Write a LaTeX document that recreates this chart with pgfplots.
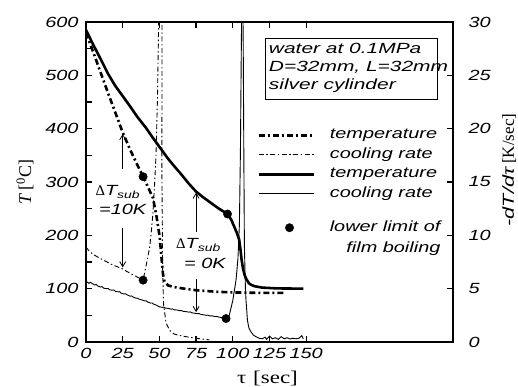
\documentclass[border=0pt]{standalone}
\usepackage{fontspec}
\setmainfont{Liberation Serif}
\newfontfamily\hv[FakeStretch=1.35]{Liberation Sans}
\newfontfamily\hvb[FakeStretch=1.42]{Liberation Sans}
\newfontfamily\tms[FakeStretch=1.28]{Liberation Serif}
\usepackage{pgfplots}
\pgfplotsset{compat=1.18}
\usetikzlibrary{arrows.meta}
\newcommand{\hvf}{\hv\itshape\fontsize{14.8}{17}\selectfont}
\newcommand{\serf}{\rmfamily\upshape\fontsize{18}{21}\selectfont}
\pgfplotsset{
 legline/.style={legend image code/.code={\draw[##1] (0bp,0bp) -- (55bp,0bp);}},
 legdot/.style={legend image code/.code={\fill (31bp,0bp) circle (4.2bp);}},
}
\begin{document}
\begin{tikzpicture}
\path[use as bounding box] (-86bp,-45bp) rectangle (432bp,342bp);
\begin{axis}[
 scale only axis, width=367bp, height=320bp,
 xmin=0, xmax=250, ymin=0, ymax=600,
 clip mode=individual,
 xtick={0,25,...,150}, ytick={0,100,...,600}, minor ytick={50,150,...,550},
 ytick pos=left, xtick pos=both,
 tick align=inside,
 major tick length=6bp, minor tick length=6bp,
 axis line style={line width=1.5bp},
 tick style={line width=1.2bp, black},
 ticklabel style={font=\hvf},
 /pgf/number format/assume math mode=true,
 xticklabel style={yshift=-3bp},
 yticklabel style={xshift=-4bp},
 ylabel={{\itshape T} [\textsuperscript{0}C]},
 ylabel style={font=\serf, at={(axis description cs:-0.166,0.5)}, anchor=center},
]
% dT_sub = 10K, temperature
\addplot[line width=2.6bp, dash pattern=on 6bp off 3bp on 2bp off 3bp] coordinates {
(0,580)(5,543)(10,505)(15,467)(20,430)(25,393)(30,361)(35,332)(38.9,310)
(42,292)(45.6,270)(47.9,238)(50.2,197)(51.3,162)(52.4,128)(53.5,113)(56,106)(60,103)(67,100)
(75,97)(90,94)(100,93)(120,92)(135,92)};
% dT_sub = 0K, temperature
\addplot[line width=2.6bp] coordinates {
(0,585)(5,557)(9.5,533)(15,503)(20,480)(25.3,460)(30,442)(35,422)(41,401)(45,385)(50,366)
(55.8,344)(60,330)(65,314)(70,297)(75,282)(80,271)(85,261)(90,251)(96.4,240)(99,229)(101,216)
(103,203)(104.4,191)(105.3,172)(106,154)(107,137)(108,126)(109,119)(111,110)(113,106.5)
(115,104.5)(120,102)(130,100.5)(148,100)};
\addplot[only marks, mark=*, mark size=4.2bp] coordinates {(38.9,310)(96.4,240)};
% x label
\node[font=\tms\fontsize{18}{21}\selectfont, anchor=west, inner sep=0pt] at (rel axis cs:0.411,-0.1125) {τ\hspace{7bp}[sec]};
% annotations
\draw[line width=0.8bp, -{Straight Barb[length=5bp,width=6bp]}] (axis cs:25,325) -- (axis cs:25,390);
\draw[line width=0.8bp, -{Straight Barb[length=5bp,width=6bp]}] (axis cs:25,213) -- (axis cs:25,140);
\draw[line width=0.8bp, -{Straight Barb[length=5bp,width=6bp]}] (axis cs:75,207) -- (axis cs:75,280);
\draw[line width=0.8bp, -{Straight Barb[length=5bp,width=6bp]}] (axis cs:75,118) -- (axis cs:75,56);
\node[font=\hvf, inner sep=0pt] at (axis cs:21.7,281) {{\rmfamily\upshape Δ}T\textsubscript{sub}};
\node[font=\hvf, inner sep=0pt] at (axis cs:25,248) {=10K};
\node[font=\hvf, inner sep=0pt] at (axis cs:76.6,182) {{\rmfamily\upshape Δ}T\textsubscript{sub}};
\node[font=\hvf, inner sep=0pt] at (axis cs:81,148) {= 0K};
% info box
\draw[line width=0.8bp] (axis cs:122,454) rectangle (axis cs:239.6,570);
\node[font=\hvb\itshape\fontsize{14.8}{17}\selectfont, anchor=north west, align=left, inner sep=0pt] at (axis cs:124.5,561)
 {water at 0.1MPa\\[1.2bp] D=32mm, L=32mm\\[1.2bp] silver cylinder};
\end{axis}
\begin{axis}[
 scale only axis, width=367bp, height=320bp,
 xmin=0, xmax=250, ymin=0, ymax=30,
 axis x line=none, axis y line*=right,
 ytick={0,5,...,30},
 tick align=inside, major tick length=6bp,
 axis line style={line width=1.5bp},
 tick style={line width=1.2bp, black},
 ticklabel style={font=\hvf},
 /pgf/number format/assume math mode=true,
 yticklabel style={anchor=west, xshift=12bp},
 ylabel={{\hv\itshape\fontsize{16}{18}\selectfont -dT/dτ} [K/sec]},
 ylabel style={font=\rmfamily\upshape\fontsize{17}{20}\selectfont, at={(axis description cs:1.153,0.5375)}, anchor=center},
 legend style={draw=none, fill=none, font=\hvf, at={(axis cs:116.5,20.06)}, anchor=north west,
   inner sep=0pt, row sep=5.5bp,
   nodes={inner sep=0pt, text height=10.5bp, text depth=3.5bp},
   /tikz/every odd column/.append style={column sep=15bp}},
 legend cell align=left,
]
% dT_sub = 10K, cooling rate
\addplot[forget plot, line width=0.9bp, dash pattern=on 5bp off 2.5bp on 1.5bp off 2.5bp] coordinates {
(0,8.9)(2,8.55)(5,8.2)(9.5,7.85)(13,7.6)(17,7.3)(20.5,7.1)(24.2,6.9)(28,6.6)(32,6.3)(35.5,6.05)(38.9,5.8)
(41.3,7.4)(43.4,8.9)(44.6,10.5)(45.6,12.1)(46.8,15)(47.7,17.5)(48.7,23)(49.5,30)(50.6,34)(51.8,30)
(51.7,16)(52.2,7)(52.8,3.6)(54.5,1.8)(57,1.1)(60,0.75)(64,0.6)(68,0.5)(75,0.35)(84,0.2)};
% dT_sub = 0K, cooling rate
\addplot[forget plot, line width=0.9bp] coordinates {
(0,5.7)(1,5.6)(2,5.5)(3,5.6)(4,5.5)(6,5.35)(7,5.4)(8,5.25)(10,5.15)(11,5.2)(12,5.05)(14,5.0)(15,5.02)(16,4.9)(18,4.85)
(19,4.88)(20,4.75)(22,4.7)(23,4.72)(24,4.58)(26,4.5)(27,4.52)(28,4.42)(30,4.3)(31,4.32)(32,4.22)(34,4.1)(35,4.12)
(36,4.02)(38,3.95)(40,3.85)(41,3.86)(42,3.75)(44,3.65)(45,3.66)(46,3.55)(48,3.45)(50,3.3)(52,3.25)(53,3.27)(54,3.18)
(56,3.15)(58,3.08)(59,3.1)(60,3.02)(62,3.0)(64,2.93)(65,2.95)(66,2.88)(68,2.85)(70,2.8)(71,2.82)(72,2.74)(74,2.7)
(76,2.65)(77,2.67)(78,2.6)(80,2.55)(82,2.5)(83,2.52)(84,2.45)(86,2.45)(88,2.38)(89,2.4)(90,2.35)(92,2.3)(94,2.25)(95.4,2.2)
(97.6,2.5)(100,3.9)(102.2,5.8)(103.5,7.8)(104.5,11)(105.2,18)(105.7,26)(106.1,32)(106.6,35)(107.1,28)(107.5,18)
(107.9,9)(108.6,5)(109,3.9)(110,2.0)(111,1.3)(112.3,0.97)(114,0.65)(115.7,0.5)(118,0.35)(120,0.3)(122,0.45)(123,0.25)
(125,0.55)(127,0.3)(129,0.4)(131,0.25)(133,0.5)(135,0.3)(137,0.4)(139,0.28)(141,0.35)(143,0.3)(145,0.35)(147,0.6)(148,0.3)};
\addplot[forget plot, only marks, mark=*, mark size=4.2bp] coordinates {(38.9,5.8)(95.4,2.2)};
% legend
\addlegendimage{legline, line width=2.6bp, dash pattern=on 6bp off 3bp on 2bp off 3bp}
\addlegendentry{temperature}
\addlegendimage{legline, line width=0.9bp, dash pattern=on 5bp off 2.5bp on 1.5bp off 2.5bp}
\addlegendentry{cooling rate}
\addlegendimage{legline, line width=2.6bp}
\addlegendentry{temperature}
\addlegendimage{legline, line width=0.9bp}
\addlegendentry{cooling rate}
\addlegendimage{empty legend}
\addlegendentry[text height=6bp, text depth=3bp]{}
\addlegendimage{legdot}
\addlegendentry{\begin{tabular}[t]{@{}r@{}}lower limit of\\[4bp] film boiling\end{tabular}}
\end{axis}
\end{tikzpicture}
\end{document}
